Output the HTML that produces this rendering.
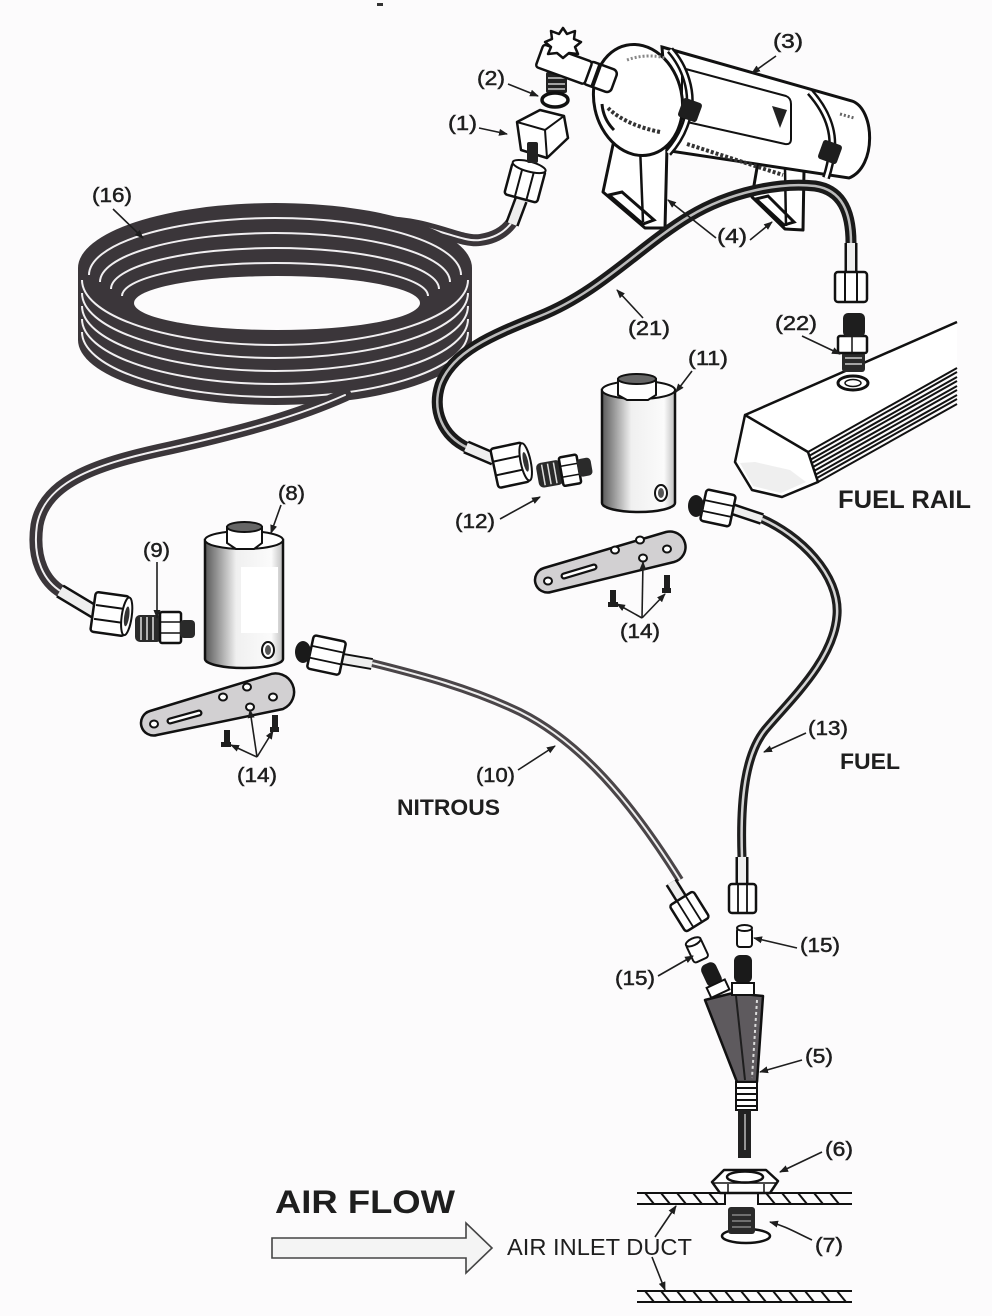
<!DOCTYPE html>
<html><head><meta charset="utf-8"><style>
html,body{margin:0;padding:0;background:#fcfbfc;}
svg{display:block}
text{font-family:"Liberation Sans",Arial,sans-serif;fill:#1e1e1e}
</style></head><body>
<svg width="992" height="1316" viewBox="0 0 992 1316" xmlns="http://www.w3.org/2000/svg">
<defs>
<marker id="ah" markerWidth="9" markerHeight="8" refX="8" refY="4" orient="auto" markerUnits="userSpaceOnUse"><path d="M0 0.5 L9 4 L0 7.5 Z" fill="#1e1e1e"/></marker>
<linearGradient id="sol" x1="0" x2="1" y1="0" y2="0"><stop offset="0" stop-color="#5a5a5a"/><stop offset="0.4" stop-color="#f0f0f0"/><stop offset="0.85" stop-color="#fbfbfb"/><stop offset="1" stop-color="#bdbdbd"/></linearGradient>
</defs>
<rect width="992" height="1316" fill="#fcfbfc"/>
<rect x="377" y="3" width="6" height="3" fill="#333"/>

<!-- coil top hose (drawn first so it merges into coil) -->
<g fill="none" stroke-linecap="round">
<path d="M380 222 C430 222 460 243 480 240 C495 238 505 232 512 222" stroke="#3b363a" stroke-width="12"/>
<path d="M380 222 C430 222 460 243 480 240 C495 238 505 232 512 222" stroke="#f1eff1" stroke-width="2"/>
</g>

<!-- ===== COIL (16) ===== -->
<path d="M78 268 A197 65 0 0 1 472 268 L472 340 A197 65 0 0 1 78 340 Z" fill="#3b363a"/>
<g fill="none" stroke="#f1eff1" stroke-width="2">
<path d="M89 275 A186 57 0 0 1 461 275"/>
<path d="M100 282 A175 49 0 0 1 450 282"/>
<path d="M111 289 A164 41 0 0 1 439 289"/>
<path d="M122 296 A153 33 0 0 1 428 296"/>
<path d="M82 280 A193 65 0 0 0 468 280"/>
<path d="M82 293 A193 65 0 0 0 468 293"/>
<path d="M82 306 A193 65 0 0 0 468 306"/>
<path d="M82 319 A193 65 0 0 0 468 319"/>
<path d="M82 332 A193 65 0 0 0 468 332"/>
</g>
<ellipse cx="277" cy="303" rx="143" ry="27" fill="#fcfbfc"/>

<!-- coil bottom hose -->
<g fill="none" stroke-linecap="round">
<path d="M345 395 C300 415 250 430 170 448 C100 463 45 480 37 525 C32 560 45 582 62 592" stroke="#3b363a" stroke-width="13"/>
<path d="M345 395 C300 415 250 430 170 448 C100 463 45 480 37 525 C32 560 45 582 62 592" stroke="#f1eff1" stroke-width="2"/>
</g>
<!-- sleeve + nut at top of hose 16 -->
<line x1="512" y1="224" x2="521" y2="200" stroke="#111" stroke-width="14"/>
<line x1="512" y1="224" x2="521" y2="200" stroke="#eee" stroke-width="9"/>
<g transform="rotate(15 525 182)">
<rect x="508" y="166" width="34" height="33" rx="3" fill="#fff" stroke="#111" stroke-width="2.5"/>
<line x1="519" y1="168" x2="519" y2="198" stroke="#111" stroke-width="2"/>
<line x1="531" y1="168" x2="531" y2="198" stroke="#111" stroke-width="2"/>
<ellipse cx="525" cy="166" rx="17" ry="5" fill="#fff" stroke="#111" stroke-width="2"/>
</g>
<!-- sleeve + nut at fitting 9 -->
<line x1="60" y1="591" x2="95" y2="612" stroke="#111" stroke-width="15"/>
<line x1="60" y1="591" x2="95" y2="612" stroke="#eee" stroke-width="10"/>
<g transform="rotate(8 110 613)">
<rect x="93" y="594" width="34" height="40" rx="3" fill="#fff" stroke="#111" stroke-width="2.5"/>
<line x1="95" y1="607" x2="125" y2="607" stroke="#111" stroke-width="2"/>
<line x1="95" y1="621" x2="125" y2="621" stroke="#111" stroke-width="2"/>
<ellipse cx="127" cy="614" rx="5" ry="19" fill="#fff" stroke="#111" stroke-width="2"/>
<ellipse cx="127" cy="614" rx="2.5" ry="10" fill="#333"/>
</g>

<!-- fitting 9 -->
<rect x="135" y="615" width="27" height="27" rx="5" fill="#2a2a2a"/>
<g stroke="#ddd" stroke-width="1.5"><line x1="141" y1="617" x2="141" y2="640"/><line x1="147" y1="617" x2="147" y2="640"/><line x1="153" y1="617" x2="153" y2="640"/></g>
<rect x="160" y="612" width="21" height="31" rx="2" fill="#fff" stroke="#111" stroke-width="2.5"/>
<line x1="160" y1="622" x2="181" y2="622" stroke="#111" stroke-width="1.5"/>
<line x1="160" y1="633" x2="181" y2="633" stroke="#111" stroke-width="1.5"/>
<rect x="180" y="620" width="15" height="18" rx="4" fill="#2a2a2a"/>

<!-- ===== SOLENOID 8 ===== -->
<path d="M205 540 L205 659 A39 9 0 0 0 283 659 L283 540 Z" fill="url(#sol)" stroke="#111" stroke-width="2.5"/>
<ellipse cx="244" cy="540" rx="39" ry="9" fill="#fff" stroke="#111" stroke-width="2"/>
<rect x="241" y="567" width="37" height="66" fill="#fff"/>
<path d="M227 527 L227 543 L236 549 L254 549 L262 543 L262 527 Z" fill="#fff" stroke="#111" stroke-width="2"/>
<ellipse cx="244.5" cy="527" rx="17.5" ry="5" fill="#666" stroke="#111" stroke-width="2"/>
<ellipse cx="268" cy="650" rx="6" ry="8" fill="#fff" stroke="#111" stroke-width="2"/>
<ellipse cx="268" cy="650" rx="3" ry="5" fill="#555"/>

<!-- hose 10 -->
<path d="M372 663 C420 675 470 688 520 712 C580 742 630 800 680 880" fill="none" stroke="#4a4548" stroke-width="8"/>
<path d="M372 663 C420 675 470 688 520 712 C580 742 630 800 680 880" fill="none" stroke="#eee" stroke-width="2"/>
<line x1="343" y1="659" x2="372" y2="664" stroke="#111" stroke-width="12"/>
<line x1="343" y1="659" x2="372" y2="664" stroke="#eee" stroke-width="8"/>
<g transform="rotate(12 326 655)">
<rect x="310" y="638" width="33" height="34" rx="3" fill="#fff" stroke="#111" stroke-width="2.5"/>
<line x1="311" y1="649" x2="342" y2="649" stroke="#111" stroke-width="1.8"/>
<line x1="311" y1="661" x2="342" y2="661" stroke="#111" stroke-width="1.8"/>
</g>
<ellipse cx="303" cy="652" rx="8" ry="11" fill="#1a1a1a"/>

<!-- bracket left (14) -->
<path d="M150 711 L268 675 A18 18 0 0 1 283 709 L157 735 A12 12 0 0 1 150 711 Z" fill="#d2d0d2" stroke="#111" stroke-width="2.5"/>
<g fill="#fff" stroke="#111" stroke-width="2">
<ellipse cx="223" cy="697" rx="4" ry="3.5"/><ellipse cx="247" cy="687" rx="4" ry="3.5"/><ellipse cx="273" cy="697" rx="4" ry="3.5"/><ellipse cx="250" cy="707" rx="4" ry="3.5"/><ellipse cx="154" cy="724" rx="4" ry="3.5"/>
</g>
<line x1="170" y1="721" x2="199" y2="713" stroke="#111" stroke-width="7" stroke-linecap="round"/>
<line x1="170" y1="721" x2="199" y2="713" stroke="#fff" stroke-width="2.5" stroke-linecap="round"/>
<rect x="224" y="730" width="6" height="14" fill="#1e1e1e"/><rect x="221" y="742" width="10" height="5" fill="#1e1e1e"/>
<rect x="272" y="715" width="6" height="15" fill="#1e1e1e"/><rect x="270" y="727" width="9" height="5" fill="#1e1e1e"/>

<!-- legs behind tank -->
<path d="M614 140 L603 192 L645 228 L665 228 L667 146 Z" fill="#fff" stroke="#111" stroke-width="3" stroke-linejoin="round"/>
<path d="M609 195 L622 192 L654 220 L643 224 Z" fill="#fff" stroke="#111" stroke-width="3"/>
<line x1="640" y1="146" x2="643" y2="222" stroke="#111" stroke-width="2.5"/>
<path d="M758 162 L752 197 L785 229 L803 230 L804 170 Z" fill="#fff" stroke="#111" stroke-width="3" stroke-linejoin="round"/>
<path d="M756 199 L768 196 L794 222 L784 225 Z" fill="#fff" stroke="#111" stroke-width="3"/>
<line x1="785" y1="168" x2="786" y2="226" stroke="#111" stroke-width="2.5"/>

<!-- tank -->
<path d="M662 47 L852 101 C875 109 877 167 849 178 L670 151 Z" fill="#fff" stroke="#111" stroke-width="3"/>
<path d="M682 68 L786 96 Q791 98 791 104 L791 139 Q791 145 785 144 L687 122 Q682 120 682 114 Z" fill="none" stroke="#111" stroke-width="2"/>
<path d="M772 106 L787 110 L780 128 Z" fill="#222"/>
<path d="M687 144 L783 175" stroke="#333" stroke-width="4" stroke-dasharray="3 2" fill="none"/>
<path d="M840 114 l14 4" stroke="#666" stroke-width="3" stroke-dasharray="2 2"/>
<ellipse cx="638" cy="100" rx="44" ry="56" transform="rotate(-12 638 100)" fill="#fff" stroke="#111" stroke-width="3"/>
<path d="M608 108 C620 120 640 128 660 132" stroke="#333" stroke-width="4" stroke-dasharray="3 2" fill="none"/>
<path d="M602 104 C603 116 608 124 614 130" stroke="#111" stroke-width="3" fill="none"/>
<path d="M627 60 C640 55 655 55 665 58" stroke="#888" stroke-width="3" stroke-dasharray="2 2" fill="none"/>
<!-- straps -->
<path d="M670 50 C686 68 692 92 689 110 C686 128 678 142 668 153" fill="none" stroke="#111" stroke-width="8"/>
<path d="M670 50 C686 68 692 92 689 110 C686 128 678 142 668 153" fill="none" stroke="#fff" stroke-width="3"/>
<rect x="680" y="100" width="20" height="20" rx="3" fill="#1e1e1e" transform="rotate(20 690 110)"/>
<path d="M810 92 C826 110 834 130 832 150 C831 162 828 172 826 178" fill="none" stroke="#111" stroke-width="8"/>
<path d="M810 92 C826 110 834 130 832 150 C831 162 828 172 826 178" fill="none" stroke="#fff" stroke-width="3"/>
<rect x="820" y="142" width="20" height="20" rx="3" fill="#1e1e1e" transform="rotate(20 830 152)"/>
<!-- valve -->
<g transform="rotate(20 600 77)">
<rect x="585" y="65" width="30" height="24" rx="5" fill="#fff" stroke="#111" stroke-width="2.5"/>
<line x1="596" y1="65" x2="596" y2="89" stroke="#111" stroke-width="4"/>
</g>
<rect x="546" y="72" width="21" height="21" rx="2" fill="#222"/>
<g stroke="#ccc" stroke-width="1.5"><line x1="548" y1="78" x2="565" y2="78"/><line x1="548" y1="84" x2="565" y2="84"/><line x1="548" y1="89" x2="565" y2="89"/></g>
<g transform="rotate(20 563 64)"><rect x="538" y="52" width="52" height="24" rx="3" fill="#fff" stroke="#111" stroke-width="2.5"/></g>
<path d="M563 28 L567 34 L575 31 L574 39 L581 42 L575 47 L578 54 L569 53 L563 58 L557 53 L548 54 L551 47 L545 42 L552 39 L551 31 L559 34 Z" fill="#fff" stroke="#111" stroke-width="2.5" stroke-linejoin="round"/>
<!-- washer (2) -->
<ellipse cx="555" cy="100" rx="13" ry="7" fill="#fff" stroke="#111" stroke-width="3.5"/>
<!-- nut (1) -->
<path d="M517 122 L540 110 L564 116 L568 138 L547 158 L521 150 Z" fill="#fff" stroke="#111" stroke-width="2.5" stroke-linejoin="round"/>
<path d="M517 122 L545 130 L564 116 M545 130 L547 158" fill="none" stroke="#111" stroke-width="2"/>
<rect x="527" y="142" width="11" height="21" rx="2" fill="#222"/>

<!-- hose 21 path -->
<path d="M851 243 C851 212 842 190 815 186 C780 182 730 192 690 216 C640 246 600 292 540 316 C490 336 452 352 440 385 C432 410 442 436 468 448" fill="none" stroke="#1a1a1a" stroke-width="11" stroke-linecap="round"/>
<path d="M851 243 C851 212 842 190 815 186 C780 182 730 192 690 216 C640 246 600 292 540 316 C490 336 452 352 440 385 C432 410 442 436 468 448" fill="none" stroke="#bbb" stroke-width="2.5"/>
<!-- hose 21 tank end -->
<line x1="851" y1="243" x2="851" y2="272" stroke="#111" stroke-width="13"/>
<line x1="851" y1="243" x2="851" y2="272" stroke="#eee" stroke-width="8"/>
<rect x="835" y="272" width="32" height="30" rx="3" fill="#fff" stroke="#111" stroke-width="2.5"/>
<line x1="845" y1="273" x2="845" y2="301" stroke="#111" stroke-width="2"/>
<line x1="857" y1="273" x2="857" y2="301" stroke="#111" stroke-width="2"/>
<!-- hose 21 nut end -->
<line x1="466" y1="447" x2="494" y2="459" stroke="#111" stroke-width="14"/>
<line x1="466" y1="447" x2="494" y2="459" stroke="#eee" stroke-width="9"/>
<g transform="rotate(-12 511 465)">
<rect x="494" y="445" width="32" height="40" rx="3" fill="#fff" stroke="#111" stroke-width="2.5"/>
<line x1="495" y1="458" x2="525" y2="458" stroke="#111" stroke-width="2"/>
<line x1="495" y1="472" x2="525" y2="472" stroke="#111" stroke-width="2"/>
<ellipse cx="526" cy="465" rx="5" ry="19" fill="#fff" stroke="#111" stroke-width="2"/>
<ellipse cx="526" cy="465" rx="2.5" ry="10" fill="#333"/>
</g>
<!-- fitting 12 -->
<g transform="rotate(-10 563 471)">
<rect x="537" y="459" width="25" height="25" rx="5" fill="#2a2a2a"/>
<g stroke="#ddd" stroke-width="1.5"><line x1="543" y1="461" x2="543" y2="482"/><line x1="549" y1="461" x2="549" y2="482"/><line x1="555" y1="461" x2="555" y2="482"/></g>
<rect x="561" y="457" width="18" height="29" rx="2" fill="#fff" stroke="#111" stroke-width="2.5"/>
<line x1="561" y1="466" x2="579" y2="466" stroke="#111" stroke-width="1.5"/>
<line x1="561" y1="477" x2="579" y2="477" stroke="#111" stroke-width="1.5"/>
<rect x="578" y="462" width="14" height="18" rx="4" fill="#2a2a2a"/>
</g>

<!-- ===== SOLENOID 11 ===== -->
<path d="M602 390 L602 503 A36.5 9 0 0 0 675 503 L675 390 Z" fill="url(#sol)" stroke="#111" stroke-width="2.5"/>
<ellipse cx="638.5" cy="390" rx="36.5" ry="9" fill="#fff" stroke="#111" stroke-width="2"/>
<path d="M618 379 L618 395 L627 400 L648 400 L656 395 L656 379 Z" fill="#fff" stroke="#111" stroke-width="2"/>
<ellipse cx="637" cy="379" rx="19" ry="5" fill="#666" stroke="#111" stroke-width="2"/>
<ellipse cx="661" cy="493" rx="6" ry="8" fill="#fff" stroke="#111" stroke-width="2"/>
<ellipse cx="661" cy="493" rx="3" ry="5" fill="#555"/>

<!-- bracket right (14) -->
<path d="M544 568 L666 532 A15 15 0 0 1 674 562 L551 592 A12 12 0 0 1 544 568 Z" fill="#d2d0d2" stroke="#111" stroke-width="2.5"/>
<g fill="#fff" stroke="#111" stroke-width="2">
<ellipse cx="615" cy="550" rx="4" ry="3.5"/><ellipse cx="640" cy="540" rx="4" ry="3.5"/><ellipse cx="667" cy="549" rx="4" ry="3.5"/><ellipse cx="643" cy="558" rx="4" ry="3.5"/><ellipse cx="548" cy="581" rx="4" ry="3.5"/>
</g>
<line x1="564" y1="576" x2="594" y2="567" stroke="#111" stroke-width="7" stroke-linecap="round"/>
<line x1="564" y1="576" x2="594" y2="567" stroke="#fff" stroke-width="2.5" stroke-linecap="round"/>
<rect x="610" y="590" width="6" height="14" fill="#1e1e1e"/><rect x="608" y="602" width="10" height="5" fill="#1e1e1e"/>
<rect x="664" y="575" width="6" height="15" fill="#1e1e1e"/><rect x="662" y="588" width="9" height="5" fill="#1e1e1e"/>

<!-- ===== FUEL RAIL ===== -->
<path d="M745 415 L957 322 L957 368 L808 452 Z" fill="#fff"/>
<line x1="745" y1="415" x2="957" y2="322" stroke="#111" stroke-width="2.5"/>
<g stroke="#111" stroke-width="2">
<line x1="808" y1="452" x2="957" y2="368"/>
<line x1="809" y1="456" x2="957" y2="372"/>
<line x1="810" y1="460" x2="957" y2="377"/>
<line x1="812" y1="463" x2="957" y2="381"/>
<line x1="813" y1="467" x2="957" y2="386"/>
<line x1="814" y1="471" x2="957" y2="390"/>
<line x1="815" y1="475" x2="957" y2="395"/>
<line x1="817" y1="478" x2="957" y2="399"/>
<line x1="818" y1="482" x2="957" y2="404"/>
</g>
<path d="M745 415 L808 452 L818 482 L782 497 L752 490 L735 462 Z" fill="#fff" stroke="#111" stroke-width="2.5" stroke-linejoin="round"/>
<path d="M740 463 L753 486 L781 493 L806 482 L790 470 L755 462 Z" fill="#efefef"/>
<ellipse cx="853" cy="383" rx="15" ry="7" fill="#fff" stroke="#111" stroke-width="3"/>
<ellipse cx="853" cy="383" rx="8" ry="3.5" fill="#fff" stroke="#111" stroke-width="1.5"/>
<!-- fitting 22 -->
<rect x="842" y="352" width="23" height="20" rx="3" fill="#2a2a2a"/>
<g stroke="#ccc" stroke-width="1.5"><line x1="845" y1="358" x2="862" y2="358"/><line x1="845" y1="364" x2="862" y2="364"/></g>
<rect x="838" y="336" width="29" height="17" rx="2" fill="#fff" stroke="#111" stroke-width="2.5"/>
<line x1="852" y1="337" x2="852" y2="352" stroke="#111" stroke-width="1.5"/>
<rect x="843" y="313" width="22" height="24" rx="5" fill="#1e1e1e"/>

<!-- ===== HOSE 13 ===== -->
<path d="M760 518 C800 535 840 575 837 615 C834 660 790 700 765 730 C745 755 740 800 742 857" fill="none" stroke="#1e1e1e" stroke-width="9"/>
<path d="M760 518 C800 535 840 575 837 615 C834 660 790 700 765 730 C745 755 740 800 742 857" fill="none" stroke="#d4d4d4" stroke-width="2.5"/>
<line x1="732" y1="509" x2="762" y2="519" stroke="#111" stroke-width="12"/>
<line x1="732" y1="509" x2="762" y2="519" stroke="#eee" stroke-width="7"/>
<g transform="rotate(12 718 508)">
<rect x="703" y="492" width="30" height="32" rx="3" fill="#fff" stroke="#111" stroke-width="2.5"/>
<line x1="704" y1="503" x2="732" y2="503" stroke="#111" stroke-width="1.8"/>
<line x1="704" y1="514" x2="732" y2="514" stroke="#111" stroke-width="1.8"/>
</g>
<ellipse cx="696" cy="506" rx="8" ry="11" fill="#1a1a1a"/>
<line x1="742" y1="857" x2="742" y2="885" stroke="#111" stroke-width="13"/>
<line x1="742" y1="857" x2="742" y2="885" stroke="#eee" stroke-width="8"/>
<rect x="729" y="884" width="27" height="29" rx="3" fill="#fff" stroke="#111" stroke-width="2.5"/>
<line x1="738" y1="885" x2="738" y2="912" stroke="#111" stroke-width="1.8"/>
<line x1="747" y1="885" x2="747" y2="912" stroke="#111" stroke-width="1.8"/>

<!-- hose 10 end nut -->
<g transform="rotate(-32 686 906)">
<line x1="686" y1="878" x2="686" y2="898" stroke="#111" stroke-width="13"/>
<line x1="686" y1="878" x2="686" y2="898" stroke="#eee" stroke-width="8"/>
<rect x="672" y="897" width="28" height="31" rx="3" fill="#fff" stroke="#111" stroke-width="2.5"/>
<line x1="681" y1="898" x2="681" y2="927" stroke="#111" stroke-width="1.8"/>
<line x1="691" y1="898" x2="691" y2="927" stroke="#111" stroke-width="1.8"/>
</g>

<!-- caps (15) -->
<g transform="rotate(-25 697 950)">
<rect x="689" y="940" width="16" height="21" rx="3" fill="#fff" stroke="#111" stroke-width="2"/>
<ellipse cx="697" cy="941" rx="8" ry="3.5" fill="#fff" stroke="#111" stroke-width="2"/>
</g>
<rect x="737" y="928" width="15" height="19" rx="3" fill="#fff" stroke="#111" stroke-width="2"/>
<ellipse cx="744.5" cy="928" rx="7.5" ry="3" fill="#fff" stroke="#111" stroke-width="2"/>

<!-- nozzle (5) -->
<path d="M705 1000 L733 993 L763 996 L757 1082 L737 1082 Z" fill="#5e5a5e" stroke="#111" stroke-width="2.5" stroke-linejoin="round"/>
<line x1="736" y1="996" x2="745" y2="1080" stroke="#1e1e1e" stroke-width="2"/>
<line x1="757" y1="1000" x2="752" y2="1078" stroke="#ddd" stroke-width="2" stroke-dasharray="3 3"/>
<g transform="rotate(-25 714 980)">
<rect x="706" y="962" width="16" height="24" rx="6" fill="#1a1a1a"/>
<rect x="704" y="984" width="20" height="11" fill="#fff" stroke="#111" stroke-width="2"/>
</g>
<rect x="734" y="955" width="18" height="28" rx="6" fill="#1a1a1a"/>
<rect x="732" y="983" width="22" height="12" fill="#fff" stroke="#111" stroke-width="2"/>
<rect x="736" y="1082" width="21" height="28" fill="#fff" stroke="#111" stroke-width="2"/>
<g stroke="#111" stroke-width="2"><line x1="736" y1="1088" x2="757" y2="1088"/><line x1="736" y1="1094" x2="757" y2="1094"/><line x1="736" y1="1100" x2="757" y2="1100"/><line x1="736" y1="1106" x2="757" y2="1106"/></g>
<rect x="738" y="1110" width="13" height="48" fill="#222"/>
<line x1="745" y1="1114" x2="745" y2="1150" stroke="#bbb" stroke-width="1.5"/>

<!-- nut (6) -->
<path d="M712 1182 L724 1170 L766 1170 L778 1181 L770 1193 L720 1193 Z" fill="#fff" stroke="#111" stroke-width="2.5" stroke-linejoin="round"/>
<line x1="713" y1="1183" x2="777" y2="1183" stroke="#111" stroke-width="1.5"/>
<line x1="728" y1="1184" x2="728" y2="1193" stroke="#111" stroke-width="1.5"/>
<line x1="764" y1="1184" x2="764" y2="1193" stroke="#111" stroke-width="1.5"/>
<ellipse cx="745" cy="1177" rx="18" ry="5.5" fill="#fff" stroke="#111" stroke-width="2.5"/>

<!-- duct walls -->
<g stroke="#111" stroke-width="2" fill="none">
<path d="M637 1193 L725 1193 L725 1204 L637 1204"/>
<path d="M852 1193 L758 1193 L758 1204 L852 1204"/>
<line x1="637" y1="1291" x2="852" y2="1291"/>
<line x1="637" y1="1302" x2="852" y2="1302"/>
<path d="M645 1193 l9 11 M661 1193 l9 11 M677 1193 l9 11 M693 1193 l9 11 M709 1193 l9 11 M766 1193 l9 11 M782 1193 l9 11 M798 1193 l9 11 M814 1193 l9 11 M830 1193 l9 11"/>
<path d="M645 1291 l9 11 M661 1291 l9 11 M677 1291 l9 11 M693 1291 l9 11 M709 1291 l9 11 M725 1291 l9 11 M741 1291 l9 11 M757 1291 l9 11 M773 1291 l9 11 M789 1291 l9 11 M805 1291 l9 11 M821 1291 l9 11 M837 1291 l9 11"/>
</g>
<!-- jet (7) -->
<ellipse cx="746" cy="1236" rx="24" ry="7" fill="#fff" stroke="#111" stroke-width="2.5"/>
<rect x="728" y="1207" width="27" height="27" rx="3" fill="#2a2a2a"/>
<g stroke="#999" stroke-width="1.2"><line x1="732" y1="1215" x2="751" y2="1215"/><line x1="732" y1="1221" x2="751" y2="1221"/><line x1="732" y1="1227" x2="751" y2="1227"/></g>

<!-- air flow arrow -->
<path d="M272 1238 L466 1238 L466 1223 L492 1248 L466 1273 L466 1258 L272 1258 Z" fill="#f4f4f4" stroke="#444" stroke-width="1.6"/>

<!-- ===== LEADERS ===== -->
<g stroke="#1e1e1e" stroke-width="1.6" fill="none" marker-end="url(#ah)">
<line x1="776" y1="56" x2="752" y2="73"/>
<line x1="508" y1="84" x2="538" y2="96"/>
<line x1="479" y1="128" x2="507" y2="134"/>
<line x1="113" y1="209" x2="143" y2="238"/>
<line x1="716" y1="238" x2="668" y2="200"/>
<line x1="750" y1="240" x2="772" y2="222"/>
<line x1="643" y1="318" x2="617" y2="290"/>
<line x1="802" y1="336" x2="840" y2="354"/>
<line x1="692" y1="371" x2="676" y2="392"/>
<line x1="281" y1="505" x2="271" y2="533"/>
<line x1="157" y1="562" x2="157" y2="618"/>
<line x1="500" y1="519" x2="540" y2="497"/>
<line x1="257" y1="757" x2="231" y2="745"/>
<line x1="257" y1="757" x2="250" y2="710"/>
<line x1="257" y1="757" x2="273" y2="731"/>
<line x1="642" y1="618" x2="617" y2="604"/>
<line x1="642" y1="618" x2="643" y2="562"/>
<line x1="642" y1="618" x2="665" y2="594"/>
<line x1="806" y1="733" x2="764" y2="752"/>
<line x1="518" y1="770" x2="555" y2="746"/>
<line x1="797" y1="948" x2="754" y2="938"/>
<line x1="658" y1="976" x2="693" y2="956"/>
<line x1="802" y1="1060" x2="760" y2="1072"/>
<line x1="822" y1="1152" x2="780" y2="1172"/>
<path d="M812 1240 C795 1232 785 1226 770 1222"/>
<line x1="655" y1="1237" x2="676" y2="1206"/>
<line x1="652" y1="1257" x2="665" y2="1290"/>
</g>

<!-- ===== LABELS ===== -->
<g font-size="20" stroke="#1e1e1e" stroke-width="0.5">
<text x="773" y="48" textLength="30" lengthAdjust="spacingAndGlyphs">(3)</text>
<text x="477" y="85" textLength="28" lengthAdjust="spacingAndGlyphs">(2)</text>
<text x="448" y="130" textLength="29" lengthAdjust="spacingAndGlyphs">(1)</text>
<text x="92" y="202" textLength="40" lengthAdjust="spacingAndGlyphs">(16)</text>
<text x="717" y="243" textLength="30" lengthAdjust="spacingAndGlyphs">(4)</text>
<text x="628" y="335" textLength="42" lengthAdjust="spacingAndGlyphs">(21)</text>
<text x="775" y="330" textLength="42" lengthAdjust="spacingAndGlyphs">(22)</text>
<text x="688" y="365" textLength="40" lengthAdjust="spacingAndGlyphs">(11)</text>
<text x="278" y="500" textLength="27" lengthAdjust="spacingAndGlyphs">(8)</text>
<text x="143" y="557" textLength="27" lengthAdjust="spacingAndGlyphs">(9)</text>
<text x="455" y="528" textLength="40" lengthAdjust="spacingAndGlyphs">(12)</text>
<text x="237" y="782" textLength="40" lengthAdjust="spacingAndGlyphs">(14)</text>
<text x="620" y="638" textLength="40" lengthAdjust="spacingAndGlyphs">(14)</text>
<text x="808" y="735" textLength="40" lengthAdjust="spacingAndGlyphs">(13)</text>
<text x="476" y="782" textLength="39" lengthAdjust="spacingAndGlyphs">(10)</text>
<text x="800" y="952" textLength="40" lengthAdjust="spacingAndGlyphs">(15)</text>
<text x="615" y="985" textLength="40" lengthAdjust="spacingAndGlyphs">(15)</text>
<text x="805" y="1063" textLength="28" lengthAdjust="spacingAndGlyphs">(5)</text>
<text x="825" y="1156" textLength="28" lengthAdjust="spacingAndGlyphs">(6)</text>
<text x="815" y="1252" textLength="28" lengthAdjust="spacingAndGlyphs">(7)</text>
</g>
<text x="838" y="508" font-size="25" font-weight="bold" textLength="133" lengthAdjust="spacingAndGlyphs">FUEL RAIL</text>
<text x="840" y="769" font-size="22" font-weight="bold" textLength="60" lengthAdjust="spacingAndGlyphs">FUEL</text>
<text x="397" y="815" font-size="22" font-weight="bold" textLength="103" lengthAdjust="spacingAndGlyphs">NITROUS</text>
<text x="275" y="1213" font-size="32" font-weight="bold" textLength="180" lengthAdjust="spacingAndGlyphs">AIR FLOW</text>
<text x="507" y="1255" font-size="23" textLength="185" lengthAdjust="spacingAndGlyphs">AIR INLET DUCT</text>
</svg>
</body></html>
